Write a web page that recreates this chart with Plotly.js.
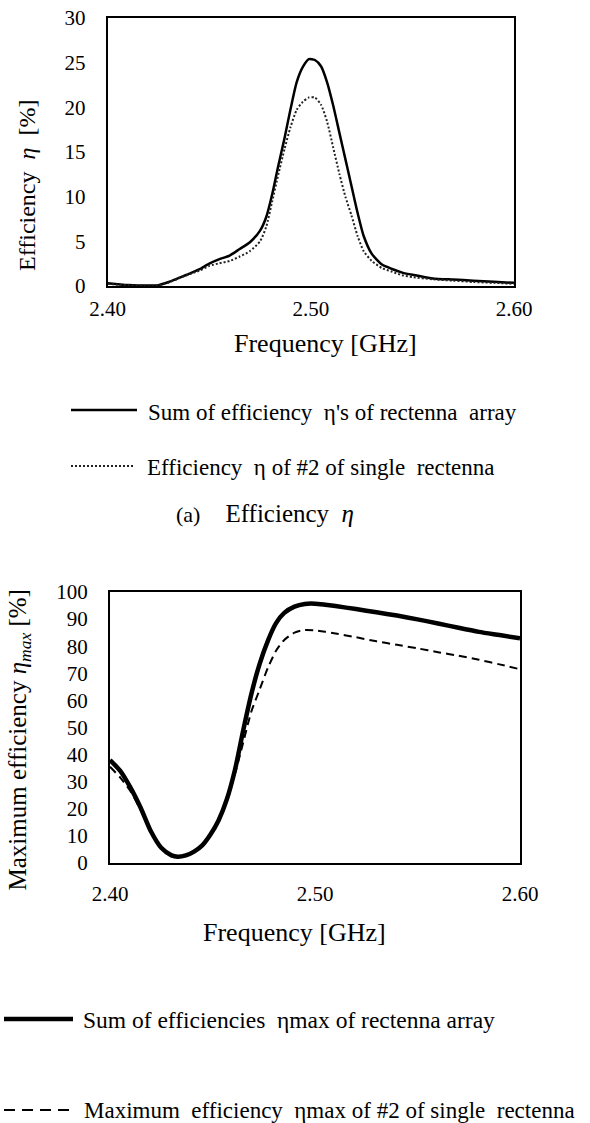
<!DOCTYPE html>
<html>
<head>
<meta charset="utf-8">
<script src="https://cdn.plot.ly/plotly-3.0.1.min.js"></script>
<style>
  html, body { margin: 0; padding: 0; background: #fff; }
  #chart { width: 590px; height: 1123px; }
</style>
</head>
<body>
<div id="chart"></div>
<script>
// ---------- Data ----------
// (a) Efficiency eta
const freqA = [2.400, 2.405, 2.410, 2.415, 2.420, 2.425, 2.430, 2.435, 2.440, 2.445,
  2.450, 2.455, 2.460, 2.465, 2.470, 2.475, 2.478, 2.481, 2.484, 2.487,
  2.490, 2.493, 2.496, 2.499, 2.502, 2.505, 2.508, 2.511, 2.514, 2.517,
  2.520, 2.523, 2.526, 2.530, 2.535, 2.540, 2.545, 2.550, 2.560, 2.570,
  2.580, 2.590, 2.600];
const sumEff = [0.3, 0.2, 0.1, 0.05, 0.05, 0.1, 0.45, 0.9, 1.35, 1.85,
  2.5, 3.0, 3.4, 4.15, 4.9, 6.2, 7.7, 10.3, 13.5, 16.5,
  19.8, 22.8, 24.5, 25.4, 25.3, 24.6, 22.8, 20.2, 17.2, 14.2,
  11.2, 8.2, 5.6, 3.6, 2.4, 1.9, 1.5, 1.25, 0.85, 0.72,
  0.6, 0.48, 0.35];
const singleEff = [0.25, 0.15, 0.08, 0.05, 0.05, 0.1, 0.4, 0.85, 1.3, 1.7,
  2.25, 2.55, 2.8, 3.3, 3.9, 5.0, 6.6, 9.5, 12.5, 15.3,
  17.8, 19.7, 20.6, 21.1, 21.1, 20.3, 18.4, 15.5, 12.6, 10.0,
  7.9, 5.6, 3.9, 2.8, 2.0, 1.6, 1.2, 1.0, 0.75, 0.6,
  0.45, 0.35, 0.25];

// (b) Maximum efficiency eta_max
const freqB = [2.400, 2.405, 2.410, 2.415, 2.420, 2.425, 2.430, 2.433, 2.437, 2.441,
  2.445, 2.449, 2.453, 2.457, 2.461, 2.465, 2.469, 2.473, 2.477, 2.481,
  2.485, 2.490, 2.495, 2.500, 2.505, 2.510, 2.520, 2.530, 2.540, 2.550,
  2.560, 2.570, 2.580, 2.590, 2.600];
const sumMax = [38.0, 34.0, 27.8, 20.3, 11.6, 5.6, 2.8, 2.3, 2.8, 4.2,
  6.5, 10.5, 15.8, 23.5, 34.5, 49.0, 62.5, 73.5, 82.0, 88.5,
  92.3, 94.6, 95.6, 95.7, 95.3, 94.8, 93.7, 92.5, 91.3, 89.9,
  88.4, 86.8, 85.3, 84.1, 82.9];
const singleMax = [35.5, 31.5, 26.5, 19.5, 11.3, 5.5, 2.8, 2.3, 2.8, 4.2,
  6.5, 10.5, 15.8, 23.5, 33.0, 44.5, 56.0, 64.0, 72.0, 78.3,
  82.3, 85.0, 86.0, 85.8, 85.3, 84.7, 83.3, 81.8, 80.5, 79.2,
  77.8, 76.5, 75.0, 73.3, 71.5];

const tickValsX = [2.40, 2.50, 2.60];
const tickTextX = ["2.40", "2.50", "2.60"];
const tickValsA = [0, 5, 10, 15, 20, 25, 30];
const tickValsB = [0, 10, 20, 30, 40, 50, 60, 70, 80, 90, 100];

const legendTexts = [
  "Sum of efficiency\u00a0 η's of rectenna\u00a0 array",
  "Efficiency\u00a0 η of #2 of single\u00a0 rectenna",
  "Sum of efficiencies\u00a0 ηmax of rectenna array",
  "Maximum\u00a0 efficiency\u00a0 ηmax of #2 of single\u00a0 rectenna"
];

// ---------- Layout helpers ----------
const W = 590, H = 1123;
const FONT = "Liberation Serif, Times New Roman, serif";
const px = x => x / W;
const py = y => 1 - y / H;

const traces = [
  { x: freqA, y: sumEff, xaxis: "x", yaxis: "y", mode: "lines", name: legendTexts[0],
    line: { color: "#000", width: 2.5, shape: "spline", smoothing: 0.6 }, showlegend: false },
  { x: freqA, y: singleEff, xaxis: "x", yaxis: "y", mode: "lines", name: legendTexts[1],
    line: { color: "#222", width: 2, dash: "2px,2px", shape: "spline", smoothing: 0.6 }, showlegend: false },
  { x: freqB, y: sumMax, xaxis: "x2", yaxis: "y2", mode: "lines", name: legendTexts[2],
    line: { color: "#000", width: 4.5, shape: "spline", smoothing: 0.7 }, showlegend: false },
  { x: freqB, y: singleMax, xaxis: "x2", yaxis: "y2", mode: "lines", name: legendTexts[3],
    line: { color: "#000", width: 2, dash: "8px,5px", shape: "spline", smoothing: 0.7 }, showlegend: false }
];

const axisCommon = {
  showline: true, mirror: true, linecolor: "#000", linewidth: 2,
  showgrid: false, zeroline: false, ticks: "outside", ticklen: 0,
  tickfont: { family: FONT, size: 21, color: "#000" }
};

const layout = {
  width: W, height: H,
  margin: { l: 0, r: 0, t: 0, b: 0 },
  paper_bgcolor: "#fff", plot_bgcolor: "#fff",
  showlegend: false,
  xaxis: Object.assign({}, axisCommon, {
    domain: [px(107.7), px(514)], range: [2.40, 2.60],
    tickvals: tickValsX, ticktext: tickTextX, anchor: "y", ticklabelstandoff: 3
  }),
  yaxis: Object.assign({}, axisCommon, {
    domain: [py(286), py(18)], range: [0, 30],
    tickvals: tickValsA, anchor: "x", ticklabelstandoff: 16
  }),
  xaxis2: Object.assign({}, axisCommon, {
    domain: [px(110), px(520)], range: [2.40, 2.60],
    tickvals: tickValsX, ticktext: tickTextX, anchor: "y2", ticklabelstandoff: 11
  }),
  yaxis2: Object.assign({}, axisCommon, {
    domain: [py(863), py(592)], range: [0, 100],
    tickvals: tickValsB, anchor: "x2", ticklabelstandoff: 16
  }),
  shapes: [
    { type: "line", xref: "paper", yref: "paper", x0: px(71), x1: px(137), y0: py(410), y1: py(410),
      line: { color: "#000", width: 2.5 } },
    { type: "line", xref: "paper", yref: "paper", x0: px(71), x1: px(134), y0: py(466), y1: py(466),
      line: { color: "#222", width: 2, dash: "2px,2px" } },
    { type: "line", xref: "paper", yref: "paper", x0: px(4), x1: px(73), y0: py(1019), y1: py(1019),
      line: { color: "#000", width: 4.5 } },
    { type: "line", xref: "paper", yref: "paper", x0: px(4), x1: px(69), y0: py(1110), y1: py(1110),
      line: { color: "#000", width: 2, dash: "11px,7px" } }
  ],
  annotations: [
    // top chart titles
    { xref: "paper", yref: "paper", x: px(326), y: py(343), text: "Frequency [GHz]",
      showarrow: false, xanchor: "center", yanchor: "middle", font: { family: FONT, size: 26, color: "#000" } },
    { xref: "paper", yref: "paper", x: px(27), y: py(186), text: "Efficiency\u00a0 <i>η</i>\u00a0 [%]",
      textangle: -90, showarrow: false, xanchor: "center", yanchor: "middle",
      font: { family: FONT, size: 24, color: "#000" } },
    // top legend texts
    { xref: "paper", yref: "paper", x: px(146), y: py(412), text: legendTexts[0],
      showarrow: false, xanchor: "left", yanchor: "middle", font: { family: FONT, size: 23, color: "#000" } },
    { xref: "paper", yref: "paper", x: px(145), y: py(467), text: legendTexts[1],
      showarrow: false, xanchor: "left", yanchor: "middle", font: { family: FONT, size: 23, color: "#000" } },
    // caption
    { xref: "paper", yref: "paper", x: px(174), y: py(513),
      text: "<span style='font-size:22px'>(a)</span>\u00a0\u00a0\u00a0 Efficiency\u00a0 <i>η</i>",
      showarrow: false, xanchor: "left", yanchor: "middle", font: { family: FONT, size: 25, color: "#000" } },
    // bottom chart titles
    { xref: "paper", yref: "paper", x: px(294), y: py(932), text: "Frequency [GHz]",
      showarrow: false, xanchor: "center", yanchor: "middle", font: { family: FONT, size: 26, color: "#000" } },
    { xref: "paper", yref: "paper", x: px(1), y: py(740),
      text: "Maximum efficiency <i>η<sub>max</sub></i> [%]",
      textangle: -90, showarrow: false, xanchor: "left", yanchor: "middle",
      font: { family: FONT, size: 25, color: "#000" } },
    // bottom legend texts
    { xref: "paper", yref: "paper", x: px(81), y: py(1020), text: legendTexts[2],
      showarrow: false, xanchor: "left", yanchor: "middle", font: { family: FONT, size: 23.5, color: "#000" } },
    { xref: "paper", yref: "paper", x: px(82), y: py(1110), text: legendTexts[3],
      showarrow: false, xanchor: "left", yanchor: "middle", font: { family: FONT, size: 23, color: "#000" } }
  ]
};

Plotly.newPlot("chart", traces, layout, { staticPlot: true, displayModeBar: false });
</script>
</body>
</html>
